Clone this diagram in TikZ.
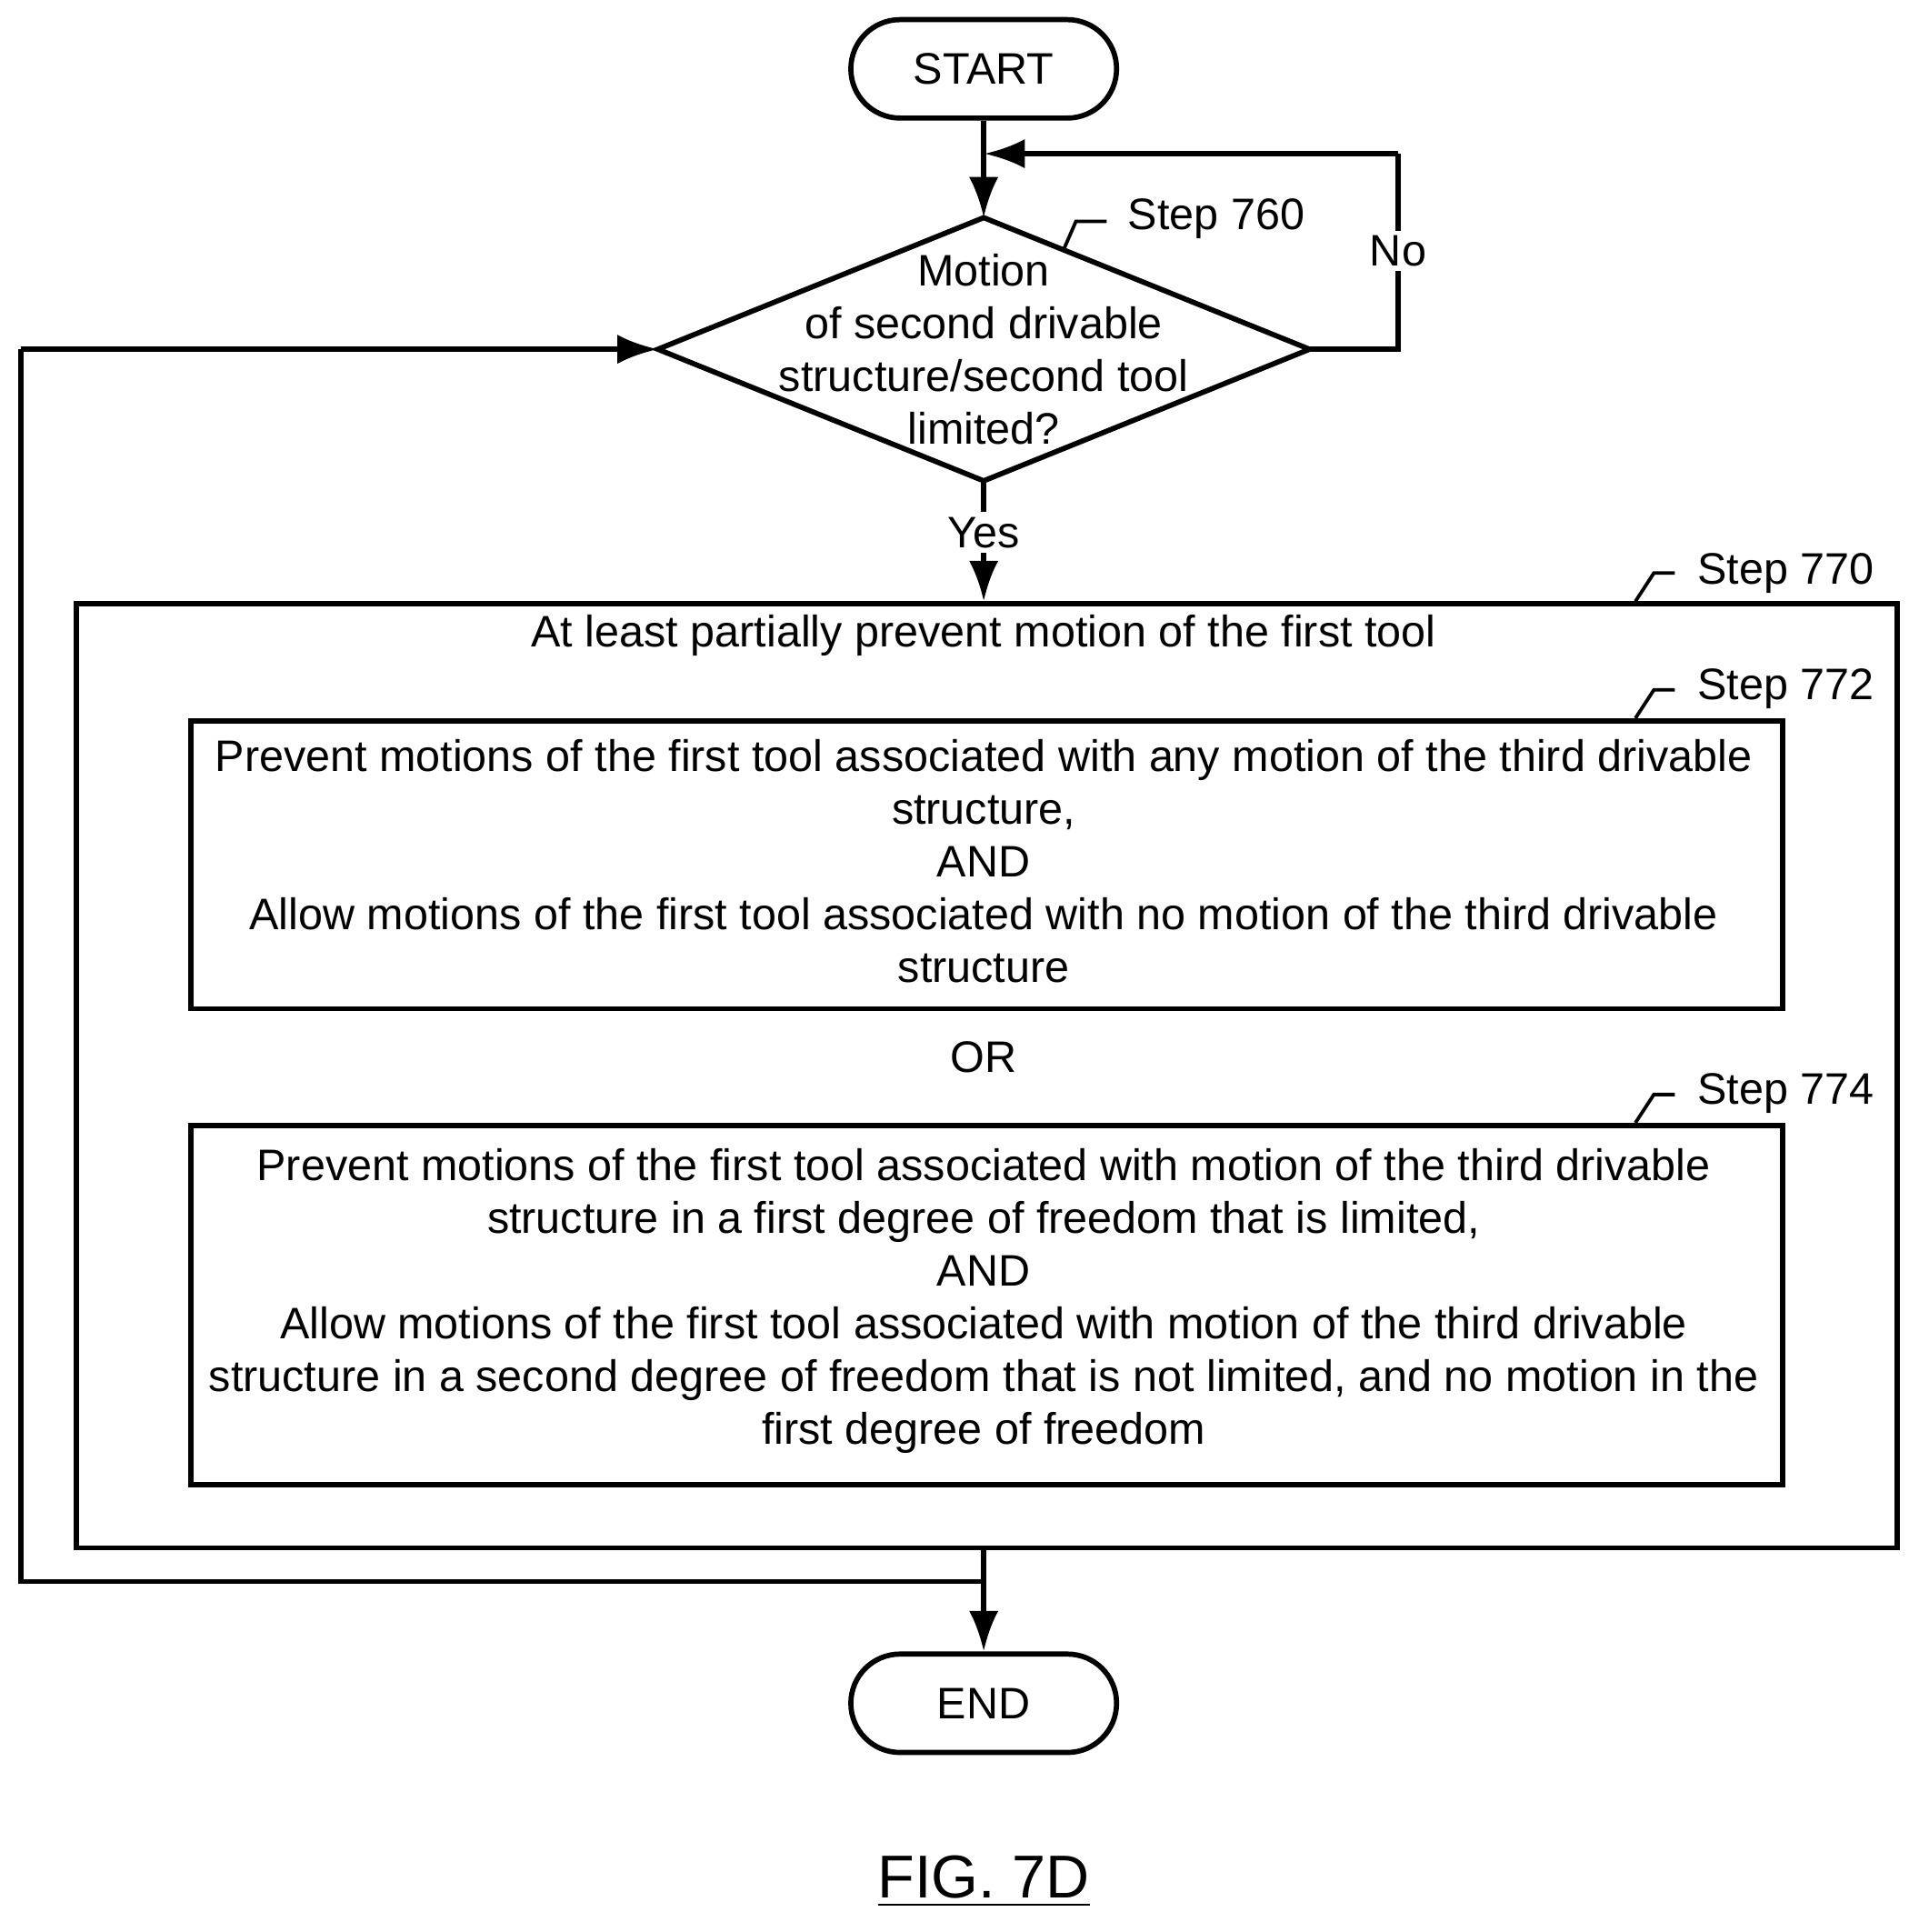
\documentclass[tikz,border=0pt]{standalone}
\usepackage{fontspec}
\setmainfont{Liberation Sans}
\usetikzlibrary{arrows.meta}
\tikzset{ term/.style ={draw, rounded corners=0.4cm, minimum width=2.16cm, minimum height=0.8cm, line width=1.2pt, font=\fontsize{10.2pt}{12pt}\selectfont} }
\tikzset{ blk/.style  ={draw, rectangle, line width=1.2pt, anchor=north west} }
\tikzset{ txt/.style  ={align=center, font=\fontsize{10.2pt}{12.2pt}\selectfont} }
\tikzset{ lnk/.style  ={line width=1.2pt} }
\tikzset{ arr/.style  ={line width=1.2pt, -{Latex[length=0.33cm, width=0.24cm]}} }

\begin{document}
\begin{tikzpicture}[x=0.01cm, y=-0.01cm]
    \useasboundingbox (0,0) rectangle (1560,1571);

    \node[term] (start) at (800, 56) {START};

    % step 760
    \coordinate (d_t) at (800,177);
    \coordinate (d_r) at (1065,284);
    \coordinate (d_b) at (800,391);
    \coordinate (d_l) at (535,284);
    \draw[lnk, line join=miter] (d_t) -- (d_r) -- (d_b) -- (d_l) -- cycle;
    \node[txt] (dec760) at (800,284) {Motion\\of second drivable\\structure/second tool\\limited?};

    \coordinate (top_in)  at (800,125);
    \coordinate (no_r)    at (1137,284);
    \coordinate (no_t)    at (1137,125);

    \draw[lnk] (start) -- (top_in);
    \draw[arr] (top_in) -- (d_t);
    \draw[lnk] (d_r) -- (no_r) -- (no_t);
    \draw[arr] (no_t) -- (800.5,125);
    \node[fill=white, txt, inner sep=1pt] (no) at (1137,204) {No};

    \node[txt, anchor=west] (s760) at (905,178) {Step 760};
    \draw[lnk, line width=0.8pt] (865,203) -- (875,180) -- (900,180);

    % step 770
    \node[blk, minimum width=14.8cm, minimum height=7.67cm] (b770) at (60,489) {};
    \node[txt] (t770) at (800,517) {At least partially prevent motion of the first tool};
    \node[txt, anchor=west] (s770) at (1368,466) {Step 770};
    \draw[lnk, line width=0.8pt] (1330,489) -- (1345,466) -- (1362,466);

    \node[fill=white, txt, inner sep=1pt] (yes) at (800,433) {Yes};
    \draw[lnk] (d_b) -- (yes);
    \draw[arr] (yes) -- (b770.north -| d_b);

    % step 772
    \node[blk, minimum width=12.94cm, minimum height=2.34cm] (b772) at (153,584) {};
    \node[txt] (t772) at (800,700) {Prevent motions of the first tool associated with any motion of the third drivable\\structure,\\AND\\Allow motions of the first tool associated with no motion of the third drivable\\structure};
    \node[txt, anchor=west] (s772) at (1368,560) {Step 772};
    \draw[lnk, line width=0.8pt] (1330,584) -- (1345,561) -- (1362,561);

    \node[txt] (or) at (800,860) {OR};

    % step 774
    \node[blk, minimum width=12.94cm, minimum height=2.92cm] (b774) at (153,913) {};
    \node[txt] (t774) at (800,1058) {Prevent motions of the first tool associated with motion of the third drivable\\structure in a first degree of freedom that is limited,\\AND\\Allow motions of the first tool associated with motion of the third drivable\\structure in a second degree of freedom that is not limited, and no motion in the\\first degree of freedom};
    \node[txt, anchor=west] (s774) at (1368,889) {Step 774};
    \draw[lnk, line width=0.8pt] (1330,913) -- (1345,890) -- (1362,890);

    % exit and loop back
    \node[term] (end) at (800,1385) {END};
    \coordinate (split) at (800,1286);
    \coordinate (ll_b)  at (17,1286);
    \coordinate (ll_t)  at (17,284);
    \draw[lnk] (b770.south -| split) -- (split);
    \draw[arr] (split) -- (end);
    \draw[lnk] (split) -- (ll_b) -- (ll_t);
    \draw[arr] (ll_t) -- (d_l);

    \node[font=\fontsize{14pt}{16pt}\selectfont] (fig) at (800,1530) {\underline{FIG. 7D}};
\end{tikzpicture}
\end{document}
